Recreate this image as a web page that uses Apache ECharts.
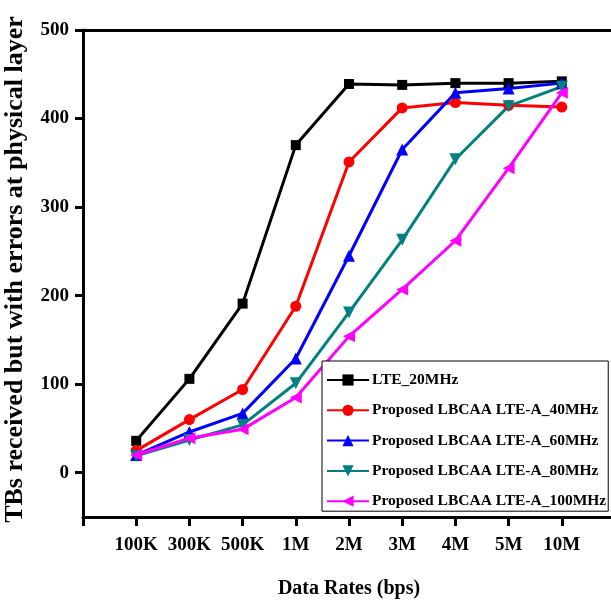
<!DOCTYPE html>
<html>
<head>
<meta charset="utf-8">
<script src="https://cdn.jsdelivr.net/npm/echarts@6/dist/echarts.min.js"></script>
<style>
  html, body { margin: 0; padding: 0; background: #fff; }
  #chart { width: 611px; height: 601px; }
</style>
</head>
<body>
<div id="chart"></div>
<script>
// data
var categories = ['100K', '300K', '500K', '1M', '2M', '3M', '4M', '5M', '10M'];
var yTicks = [0, 100, 200, 300, 400, 500];

var lte20 = [36, 106, 191, 370, 439, 438, 440, 440, 442];
var lbcaa40 = [25, 60, 94, 188, 351, 412, 418, 415, 413];
var lbcaa60 = [20, 46, 67, 129, 245, 365, 429, 434, 440];
var lbcaa80 = [19, 37, 54, 101, 181, 263, 354, 414, 436];
var lbcaa100 = [20, 39, 49, 85, 154, 207, 262, 344, 429];

var names = ['LTE_20MHz', 'Proposed LBCAA LTE-A_40MHz', 'Proposed LBCAA LTE-A_60MHz',
  'Proposed LBCAA LTE-A_80MHz', 'Proposed LBCAA LTE-A_100MHz'];
var colors = ['#000000', '#ff0000', '#0000ff', '#008080', '#ff00ff'];

// one empty slot each side so the points sit away from the axes
function pad(arr, blank) {
  return [blank].concat(arr, [blank]);
}

var font = 'Liberation Serif';

function makeSeries(i, values, symbol, rotate, size) {
  return {
    name: names[i],
    type: 'line',
    data: pad(values, null),
    symbol: symbol,
    symbolRotate: rotate,
    symbolSize: size,
    showAllSymbol: true,
    connectNulls: false,
    lineStyle: { color: colors[i], width: 3 },
    itemStyle: { color: colors[i] },
    emphasis: { disabled: true }
  };
}

const chart = echarts.init(document.getElementById('chart'));
chart.setOption({
  animation: false,
  backgroundColor: '#fff',
  grid: { left: 83, top: 30, width: 532, height: 487, containLabel: false, outerBoundsMode: 'none' },
  legend: {
    orient: 'vertical',
    left: 322,
    top: 361,
    padding: [11, 2, 2, 4],
    itemGap: 14.3,
    itemWidth: 42,
    itemHeight: 14,
    backgroundColor: '#fff',
    borderColor: '#000',
    borderWidth: 1,
    borderRadius: 0,
    z: 10,
    textStyle: { fontFamily: font, fontWeight: 'bold', fontSize: 15.5, color: '#000', padding: [0, 0, 0, -2] },
    data: names
  },
  xAxis: [{
    type: 'category',
    boundaryGap: false,
    data: pad(categories, ''),
    name: 'Data Rates (bps)',
    nameLocation: 'middle',
    nameGap: 62,
    nameTextStyle: { fontFamily: font, fontWeight: 'bold', fontSize: 20, color: '#000' },
    axisLine: { onZero: false, lineStyle: { color: '#000', width: 3 } },
    axisTick: { show: true, length: 9, lineStyle: { color: '#000', width: 3 } },
    axisLabel: { fontFamily: font, fontWeight: 'bold', fontSize: 19, color: '#000', margin: 19, interval: 0 },
    splitLine: { show: false }
  }, {
    type: 'category',
    position: 'top',
    boundaryGap: false,
    data: pad(categories, ''),
    axisLine: { onZero: false, lineStyle: { color: '#000', width: 3 } },
    axisTick: { show: false },
    axisLabel: { show: false },
    splitLine: { show: false }
  }],
  yAxis: {
    type: 'value',
    min: -50,
    max: 500,
    interval: 50,
    name: 'TBs received but with errors at physical layer',
    nameLocation: 'middle',
    nameGap: 55,
    nameTextStyle: { fontFamily: font, fontWeight: 'bold', fontSize: 26, color: '#000', padding: [0, 0, 0, 8] },
    axisLine: { show: true, onZero: false, lineStyle: { color: '#000', width: 3 } },
    axisTick: { show: true, length: 8, customValues: yTicks, lineStyle: { color: '#000', width: 3 } },
    axisLabel: { fontFamily: font, fontWeight: 'bold', fontSize: 19, color: '#000', margin: 14, customValues: yTicks },
    splitLine: { show: false }
  },
  series: [
    makeSeries(0, lte20, 'rect', 0, 10),
    makeSeries(1, lbcaa40, 'circle', 0, 11),
    makeSeries(2, lbcaa60, 'triangle', 0, 12),
    makeSeries(3, lbcaa80, 'triangle', 180, 12),
    makeSeries(4, lbcaa100, 'triangle', 90, 12)
  ]
});
</script>
</body>
</html>
